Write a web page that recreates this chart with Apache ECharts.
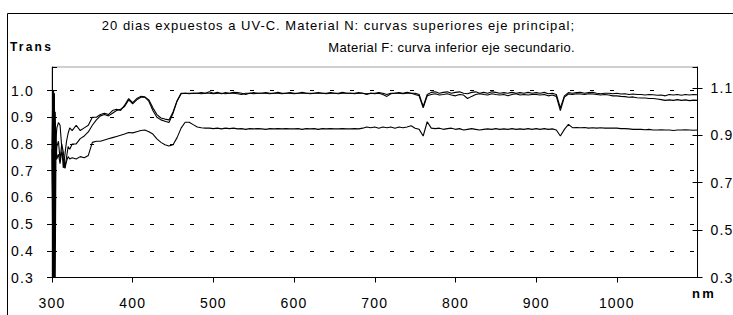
<!DOCTYPE html>
<html>
<head>
<meta charset="utf-8">
<script src="https://cdn.jsdelivr.net/npm/echarts@6/dist/echarts.min.js"></script>
<style>
html,body{margin:0;padding:0;background:#fff;}
#chart{width:733px;height:315px;}
</style>
</head>
<body>
<div id="chart"></div>
<script>
// Wavelength (nm)
const wavelength = [300,301,302,303,304,305,306,308,310,312,314,316,318,320,322,
325,330,335,340,345,350,355,360,365,370,375,380,385,390,395,400,405,410,415,420,425,430,435,440,445,450,455,460,465,470,475,480,485,490,495,
500,505,510,515,520,525,530,535,540,545,550,555,560,565,570,575,580,585,590,595,
600,605,610,615,620,625,630,635,640,645,650,655,660,665,670,675,680,685,690,695,
700,705,710,715,720,725,730,735,740,745,750,755,760,765,770,775,780,785,790,795,
800,805,810,815,820,825,830,835,840,845,850,855,860,865,870,875,880,885,890,895,
900,905,910,915,920,925,930,935,940,945,950,955,960,965,970,975,980,985,990,995,
1000,1005,1010,1015,1020,1025,1030,1035,1040,1045,1050,1055,1060,1065,1070,1075,1080,1085,1090,1095,1100];

// Material N, curve 1 (main axis)
const materialN1 = [0.80,1.00,0.36,0.99,0.30,0.82,0.86,0.88,0.87,0.79,0.71,0.76,0.81,0.84,0.86,
0.85,0.87,0.85,0.86,0.87,0.90,0.90,0.91,0.915,0.91,0.925,0.93,0.925,0.945,0.97,0.955,0.97,0.978,0.976,0.965,0.935,0.91,0.897,0.893,0.89,0.92,0.962,0.99,0.99,0.99,0.99,0.99,0.992,0.99,0.995,
0.99,0.993,0.988,0.992,0.99,0.993,0.992,0.99,0.985,0.99,0.992,0.99,0.99,0.992,0.99,0.99,0.993,0.99,0.99,0.992,
0.99,0.99,0.993,0.99,0.99,0.99,0.992,0.99,0.99,0.992,0.99,0.99,0.993,0.99,0.99,0.99,0.992,0.99,0.988,0.99,
0.99,0.992,0.99,0.985,0.99,0.99,0.992,0.99,0.993,0.99,0.99,0.985,0.94,0.985,0.993,0.995,0.99,0.993,0.995,0.99,
0.993,0.995,0.99,0.988,0.993,0.995,0.99,0.993,0.99,0.995,0.993,0.99,0.992,0.99,0.993,0.99,0.992,0.99,0.993,0.99,
0.992,0.99,0.993,0.988,0.99,0.985,0.935,0.98,0.992,0.99,0.992,0.993,0.99,0.992,0.993,0.99,0.988,0.99,0.99,0.988,
0.99,0.987,0.988,0.985,0.987,0.985,0.985,0.983,0.985,0.984,0.982,0.983,0.98,0.985,0.983,0.985,0.982,0.985,0.983,0.985,0.984];

// Material N, curve 2 (main axis)
const materialN2 = [0.78,0.36,1.00,0.30,0.92,0.74,0.79,0.81,0.74,0.80,0.77,0.71,0.75,0.79,0.78,
0.80,0.80,0.82,0.83,0.845,0.87,0.89,0.905,0.91,0.905,0.915,0.925,0.93,0.94,0.965,0.95,0.965,0.975,0.975,0.96,0.925,0.90,0.89,0.885,0.88,0.915,0.96,0.988,0.99,0.988,0.99,0.99,0.988,0.99,0.99,
0.988,0.99,0.99,0.988,0.99,0.99,0.988,0.985,0.99,0.99,0.988,0.99,0.99,0.99,0.988,0.99,0.99,0.988,0.99,0.99,
0.988,0.99,0.99,0.99,0.988,0.99,0.99,0.99,0.988,0.99,0.99,0.988,0.99,0.99,0.99,0.988,0.99,0.99,0.985,0.99,
0.988,0.99,0.985,0.978,0.988,0.99,0.99,0.988,0.99,0.99,0.985,0.98,0.935,0.98,0.985,0.988,0.983,0.985,0.988,0.983,
0.98,0.985,0.983,0.97,0.978,0.985,0.988,0.985,0.983,0.988,0.985,0.983,0.985,0.98,0.985,0.988,0.983,0.985,0.983,0.985,
0.985,0.983,0.985,0.98,0.983,0.978,0.925,0.975,0.987,0.985,0.988,0.987,0.985,0.988,0.987,0.985,0.983,0.985,0.983,0.98,
0.98,0.978,0.977,0.975,0.976,0.973,0.972,0.972,0.97,0.97,0.968,0.966,0.963,0.965,0.963,0.966,0.963,0.965,0.962,0.964,0.963];

// Material F (secondary axis)
const materialF = [0.86,0.50,0.30,0.75,0.95,0.88,0.80,0.82,0.78,0.83,0.80,0.76,0.79,0.81,0.80,
0.805,0.80,0.81,0.805,0.815,0.87,0.875,0.875,0.88,0.885,0.89,0.895,0.90,0.905,0.912,0.91,0.915,0.92,0.922,0.915,0.905,0.885,0.87,0.86,0.855,0.86,0.89,0.93,0.955,0.955,0.945,0.935,0.932,0.93,0.93,
0.928,0.93,0.927,0.93,0.928,0.93,0.927,0.928,0.925,0.928,0.927,0.928,0.927,0.925,0.928,0.927,0.928,0.927,0.928,0.927,
0.927,0.928,0.925,0.928,0.927,0.928,0.925,0.928,0.927,0.928,0.927,0.927,0.928,0.927,0.927,0.928,0.927,0.93,0.935,0.932,
0.935,0.93,0.935,0.932,0.935,0.93,0.935,0.932,0.935,0.94,0.93,0.925,0.897,0.957,0.93,0.928,0.93,0.925,0.928,0.93,
0.925,0.928,0.922,0.925,0.928,0.925,0.922,0.925,0.927,0.925,0.928,0.925,0.927,0.925,0.928,0.925,0.927,0.925,0.928,0.925,
0.928,0.925,0.928,0.925,0.927,0.922,0.897,0.925,0.946,0.932,0.933,0.932,0.933,0.93,0.932,0.93,0.932,0.93,0.93,0.93,
0.93,0.928,0.928,0.927,0.925,0.925,0.925,0.923,0.925,0.922,0.922,0.923,0.922,0.922,0.92,0.922,0.922,0.923,0.922,0.921,0.922];

const titleLine1 = '20 dias expuestos a UV-C. Material N: curvas superiores eje principal;';
const titleLine2 = 'Material F: curva inferior eje secundario.';
const yLeftName = 'Trans';
const xName = 'nm';

const FONT = '"Liberation Sans", Arial, sans-serif';
const chart = echarts.init(document.getElementById('chart'), null, {renderer: 'svg'});

const lineSeries = (name, vals, yIdx) => ({
  name, type: 'line', yAxisIndex: yIdx, showSymbol: false, symbol: 'none',
  data: wavelength.map((w, i) => [w, vals[i]]),
  lineStyle: {color: '#000', width: 1.1},
  itemStyle: {color: '#000'},
  animation: false, z: 3
});

const labelStyle = {color: '#000', fontFamily: FONT, fontSize: 14};

chart.setOption({
  animation: false,
  backgroundColor: '#fff',
  grid: {left: 52, top: 67, right: 28, bottom: 37.5, show: true, borderColor: '#a0a0a0', borderWidth: 1, containLabel: false},
  xAxis: [{
    type: 'value', min: 300, max: 1100, interval: 100,
    axisLine: {show: true, onZero: false, lineStyle: {color: '#000', width: 1}},
    axisTick: {show: true, length: 5, lineStyle: {color: '#000'}},
    axisLabel: Object.assign({margin: 18, showMaxLabel: false, formatter: v => String(v)}, labelStyle),
    splitLine: {show: false}
  }],
  yAxis: [{
    type: 'value', position: 'left', min: 0.3, max: 1.088, interval: 0.1,
    axisLine: {show: true, onZero: false, lineStyle: {color: '#000', width: 1}},
    axisTick: {show: true, length: 5, lineStyle: {color: '#000'}},
    axisLabel: Object.assign({margin: 18, showMaxLabel: false, formatter: v => v.toFixed(1)}, labelStyle),
    splitLine: {show: true, showMinLine: false, showMaxLine: false, lineStyle: {color: '#000', width: 1, type: [4, 16], dashOffset: 2}}
  }, {
    type: 'value', position: 'right', min: 0.3, max: 1.188, interval: 0.2,
    axisLine: {show: true, onZero: false, lineStyle: {color: '#000', width: 1}},
    axisTick: {show: true, length: 5, lineStyle: {color: '#000'}},
    axisLabel: Object.assign({margin: 13, showMaxLabel: false, formatter: v => v.toFixed(1)}, labelStyle),
    splitLine: {show: false}
  }, {
    type: 'value', position: 'left', min: 0.3, max: 1.088, interval: 0.1,
    axisLine: {show: false}, axisLabel: {show: false}, splitLine: {show: false},
    axisTick: {show: true, inside: true, length: 5, lineStyle: {color: '#000'}}
  }, {
    type: 'value', position: 'right', min: 0.3, max: 1.188, interval: 0.2,
    axisLine: {show: false}, axisLabel: {show: false}, splitLine: {show: false},
    axisTick: {show: true, inside: true, length: 5, lineStyle: {color: '#000'}}
  }],
  series: [
    lineSeries('Material N 1', materialN1, 0),
    lineSeries('Material N 2', materialN2, 0),
    lineSeries('Material F', materialF, 1)
  ],
  graphic: [
    {type: 'rect', shape: {x: 7.5, y: 13.5, width: 760, height: 340}, style: {fill: 'none', stroke: '#000', lineWidth: 1}, silent: true, z: -1},
    {type: 'text', x: 575, y: 25, style: {text: titleLine1, font: '13px ' + FONT, fill: '#000', align: 'right', verticalAlign: 'middle', textAlign: 'right', textVerticalAlign: 'middle'}},
    {type: 'text', x: 575, y: 47, style: {text: titleLine2, font: '13px ' + FONT, fill: '#000', align: 'right', verticalAlign: 'middle', textAlign: 'right', textVerticalAlign: 'middle'}},
    {type: 'text', x: 10, y: 47, style: {text: yLeftName, font: 'bold 12px ' + FONT, fill: '#000', align: 'left', verticalAlign: 'middle', textAlign: 'left', textVerticalAlign: 'middle'}},
    {type: 'text', x: 692, y: 293, style: {text: xName, font: 'bold 13px ' + FONT, fill: '#000', align: 'left', verticalAlign: 'middle', textAlign: 'left', textVerticalAlign: 'middle'}}
  ]
});

// Excel-like wide letter spacing of the original text
function applySpacing() {
  document.querySelectorAll('#chart text').forEach(t => {
    const s = t.textContent;
    let ls = 1;
    if (s === yLeftName || s === xName) ls = 2.2;
    else if (s === titleLine2) ls = 0.35;
    else if (/^[\d.]+$/.test(s)) ls = 1.2;
    t.style.letterSpacing = ls + 'px';
  });
}
chart.on('finished', applySpacing);
applySpacing();
setTimeout(applySpacing, 50);
</script>
</body>
</html>
